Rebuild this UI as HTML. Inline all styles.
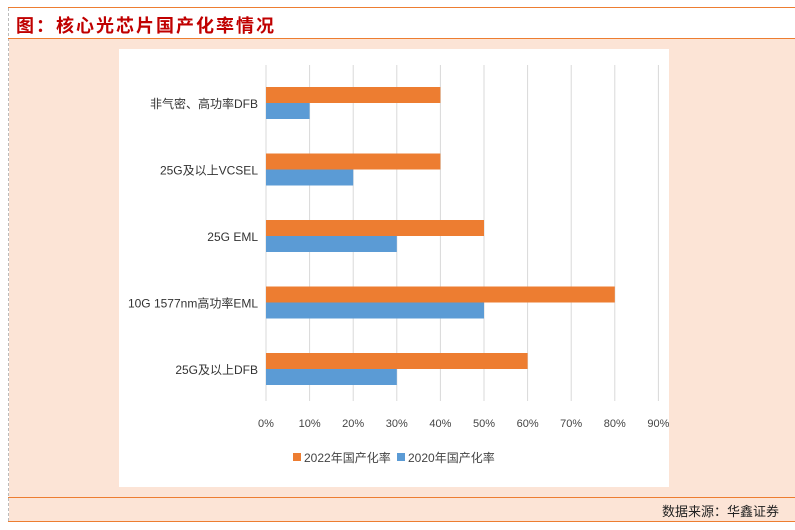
<!DOCTYPE html>
<html><head><meta charset="utf-8"><style>
body{margin:0;width:795px;height:530px;background:#fff;position:relative;overflow:hidden;font-family:"Liberation Sans","Noto Sans CJK SC",sans-serif}
.abs{position:absolute}
</style></head><body>
<div class="abs" style="left:8px;top:7px;width:787px;height:1px;background:#ed7d31"></div>
<div class="abs" style="left:16px;top:12px;font-size:18px;font-weight:bold;color:#c00000;letter-spacing:2px;font-family:'Liberation Sans','Noto Sans CJK SC',sans-serif">图：核心光芯片国产化率情况</div>
<div class="abs" style="left:8px;top:8px;width:0;height:513px;border-left:1px dashed #bbb"></div>
<div class="abs" style="left:8px;top:38px;width:787px;height:1px;background:#ed7d31"></div>
<div class="abs" style="left:9px;top:39px;width:786px;height:458px;background:#fce4d6"></div>
<div class="abs" style="left:8px;top:497px;width:787px;height:1px;background:#ed7d31"></div>
<div class="abs" style="left:9px;top:498px;width:786px;height:23px;background:#fce4d6"></div>
<div class="abs" style="left:8px;top:521px;width:787px;height:1px;background:#ed7d31"></div>
<div class="abs" style="right:16px;top:501px;font-size:13px;color:#222">数据来源：华鑫证券</div>
<svg class="abs" style="left:119px;top:49px" width="550" height="438" id="chart"><rect x="0" y="0" width="550" height="438" fill="#fff"/></svg>
<script>
const categories=["非气密、高功率DFB","25G及以上VCSEL","25G EML","10G 1577nm高功率EML","25G及以上DFB"];
const v2022=[40,40,50,80,60];
const v2020=[10,20,30,50,30];
const ticks=[0,10,20,30,40,50,60,70,80,90];
const svg=document.getElementById('chart');
const NS='http://www.w3.org/2000/svg';
const x0=147, pxPer=4.36;
const X=v=>x0+v*pxPer;
const catY=i=>54+i*66.5;
function mk(t,a){const e=document.createElementNS(NS,t);for(const k in a)e.setAttribute(k,a[k]);svg.appendChild(e);return e;}
ticks.forEach(t=>{
 const g=mk('line',{x1:X(t),x2:X(t),y1:16,y2:352,stroke:'#d9d9d9','stroke-width':1});
 
 
 const l=mk('text',{x:X(t),y:378,'text-anchor':'middle','font-size':11,fill:'#444'});
 l.textContent=t+'%';
 
 
});
categories.forEach((c,i)=>{
 const y=catY(i);
 const b1=mk('rect',{x:X(0),y:y-16,width:X(v2022[i])-X(0),height:16,fill:'#ed7d31'});
 
 
 const b2=mk('rect',{x:X(0),y:y,width:X(v2020[i])-X(0),height:16,fill:'#5b9bd5'});
 
 
 const t=mk('text',{x:139,y:y+5,'text-anchor':'end','font-size':12,fill:'#333'});
 t.textContent=c;
 
 
});
const lg=[['#ed7d31','2022年国产化率',174],['#5b9bd5','2020年国产化率',278]];
lg.forEach((d,i)=>{
 const r=mk('rect',{x:d[2],y:404,width:8,height:8,fill:d[0]});
 
 
 const t=mk('text',{x:d[2]+11,y:413,'font-size':12,fill:'#444'});
 t.textContent=d[1];
 
 
});
</script>
</body></html>
